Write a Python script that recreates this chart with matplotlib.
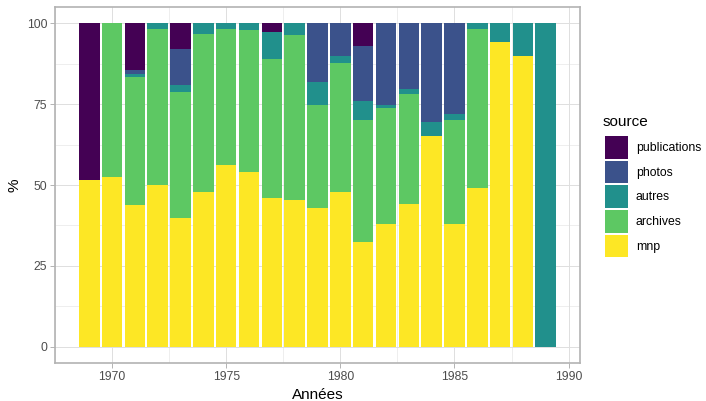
import matplotlib
matplotlib.use("Agg")
import matplotlib.pyplot as plt
from matplotlib.patches import Patch
import numpy as np

plt.rcParams['font.family'] = ['Liberation Sans', 'DejaVu Sans']

# pourcentages par année et par source
annees = list(range(1969, 1990))
mnp =          [51.5, 52.4, 43.8, 49.9, 39.8, 47.8, 56.1, 53.9, 46.0, 45.3, 42.9,
                47.8, 32.4, 38.0, 44.1, 65.0, 38.0, 49.0, 94.2, 89.9, 0.0]
archives =     [0.0, 47.6, 39.6, 48.3, 39.0, 48.8, 42.1, 43.9, 42.9, 51.0, 31.9,
                39.9, 37.8, 35.9, 34.1, 0.0, 32.2, 49.2, 0.0, 0.0, 0.0]
autres =       [0.0, 0.0, 0.9, 1.8, 2.2, 3.4, 1.8, 2.2, 8.3, 3.7, 7.1,
                2.2, 5.8, 0.9, 1.5, 4.6, 1.6, 1.8, 5.8, 10.1, 100.0]
photos =       [0.0, 0.0, 1.3, 0.0, 11.0, 0.0, 0.0, 0.0, 0.0, 0.0, 18.1,
                10.1, 16.9, 25.2, 20.3, 30.4, 28.2, 0.0, 0.0, 0.0, 0.0]
publications = [48.5, 0.0, 14.4, 0.0, 8.0, 0.0, 0.0, 0.0, 2.8, 0.0, 0.0,
                0.0, 7.1, 0.0, 0.0, 0.0, 0.0, 0.0, 0.0, 0.0, 0.0]

sources = ["mnp", "archives", "autres", "photos", "publications"]
series = [mnp, archives, autres, photos, publications]
couleurs = ["#FDE725", "#5DC863", "#21908C", "#3B528B", "#440154"]

fig = plt.figure(figsize=(7.06, 4.01), dpi=100)
ax = fig.add_axes([55/706, 38/401, 525/706, 356/401])

bas = np.zeros(len(annees))
for nom, vals, c in zip(sources, series, couleurs):
    ax.bar(annees, vals, width=0.9, bottom=bas, color=c, linewidth=0, zorder=2)
    bas += np.array(vals)

ax.set_xlim(1967.5, 1990.5)
ax.set_ylim(-5, 105)
ax.set_xticks([1970, 1975, 1980, 1985, 1990])
ax.set_yticks([0, 25, 50, 75, 100])
ax.set_xticks(np.arange(1967.5, 1990, 5), minor=True)
ax.set_yticks([12.5, 37.5, 62.5, 87.5], minor=True)
ax.grid(True, which="major", color="#DEDEDE", linewidth=0.7, zorder=0)
ax.grid(True, which="minor", color="#DEDEDE", linewidth=0.36, zorder=0)
ax.set_axisbelow(True)
for s in ax.spines.values():
    s.set_color("#B3B3B3")
    s.set_linewidth(1.2)
ax.tick_params(which="major", length=3.5, width=0.7, color="#B3B3B3",
               labelsize=8.8, labelcolor="#4D4D4D", pad=2)
ax.tick_params(which="minor", length=0)

ax.set_xlabel("Années", fontsize=11, labelpad=4.2)
ax.set_ylabel("%", fontsize=11, labelpad=3.8)

# légende : titre placé à la main, clés sans titre
fig.text(603/706, 1 - 125.7/401, "source", fontsize=11, ha="left", va="baseline")
poignees = [Patch(facecolor=c, edgecolor="none") for c in couleurs[::-1]]
leg = fig.legend(poignees, sources[::-1], loc="upper left",
                 bbox_to_anchor=(605/706, 1 - 136/401), frameon=False,
                 fontsize=8.8, handlelength=1.86, handleheight=2.48,
                 labelspacing=0.16, handletextpad=0.65,
                 borderpad=0, borderaxespad=0)

fig.savefig("out.png", dpi=100)
